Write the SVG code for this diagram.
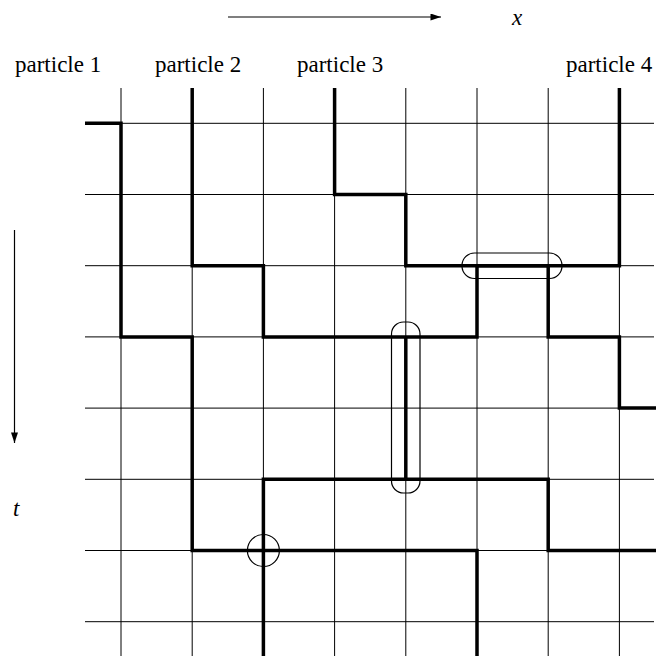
<svg xmlns="http://www.w3.org/2000/svg" width="656" height="656" viewBox="0 0 656 656">
<style>
.grid{stroke:#000;stroke-width:1;fill:none}
.path{stroke:#000;stroke-width:3.5;fill:none;stroke-linecap:butt}
.mark{stroke:#000;stroke-width:1.2;fill:none}
.lbl{font-family:"Liberation Serif","Times New Roman",serif;font-size:23px;fill:#000}
.var{font-family:"Liberation Serif","Times New Roman",serif;font-size:23px;font-style:italic;fill:#000}
</style>
<defs>
<marker id="ah" viewBox="0 0 12 8" refX="12" refY="4" markerWidth="12" markerHeight="7" markerUnits="userSpaceOnUse" orient="auto">
<path d="M0,0 L12,4 L0,8 Z" fill="#000"/>
</marker>
</defs>
<g id="axes">
<line x1="228" y1="17" x2="441" y2="17" stroke="#000" stroke-width="1.2" marker-end="url(#ah)"/>
<text class="var" x="512" y="25">x</text>
<line x1="14.5" y1="230" x2="14.5" y2="443" stroke="#000" stroke-width="1.2" marker-end="url(#ah)"/>
<text class="var" x="13" y="516">t</text>
</g>
<g id="labels">
<text class="lbl" x="15" y="72">particle 1</text>
<text class="lbl" x="155" y="72">particle 2</text>
<text class="lbl" x="297" y="72">particle 3</text>
<text class="lbl" x="566" y="72">particle 4</text>
</g>
<g id="grid" class="grid">
<path d="M121,88V656M192.2,88V656M263.4,88V656M334.6,88V656M405.8,88V656M477,88V656M548.2,88V656M619.4,88V656"/>
<path d="M85,123.3H654M85,194.5H654M85,265.7H654M85,336.9H654M85,408.1H654M85,479.3H654M85,550.5H654M85,621.7H654"/>
</g>
<g id="connectors">
<path class="path" d="M85,123.3H121V336.9H192.2V550.5H477V656"/>
<path class="path" d="M192.2,88V265.7H263.4V336.9H477V265.7H548.2V336.9H619.4V408.1H656"/>
<path class="path" d="M334.6,88V194.5H405.8V265.7H619.4V88"/>
<path class="path" d="M405.8,336.9V479.3"/>
<path class="path" d="M263.4,656V479.3H548.2V550.5H656"/>
</g>
<g id="markers">
<rect class="mark" x="462" y="253" width="100" height="25.5" rx="12.5"/>
<rect class="mark" x="391.5" y="322" width="28.5" height="171" rx="12"/>
<circle class="mark" cx="263.4" cy="550.5" r="16"/>
</g>
</svg>
